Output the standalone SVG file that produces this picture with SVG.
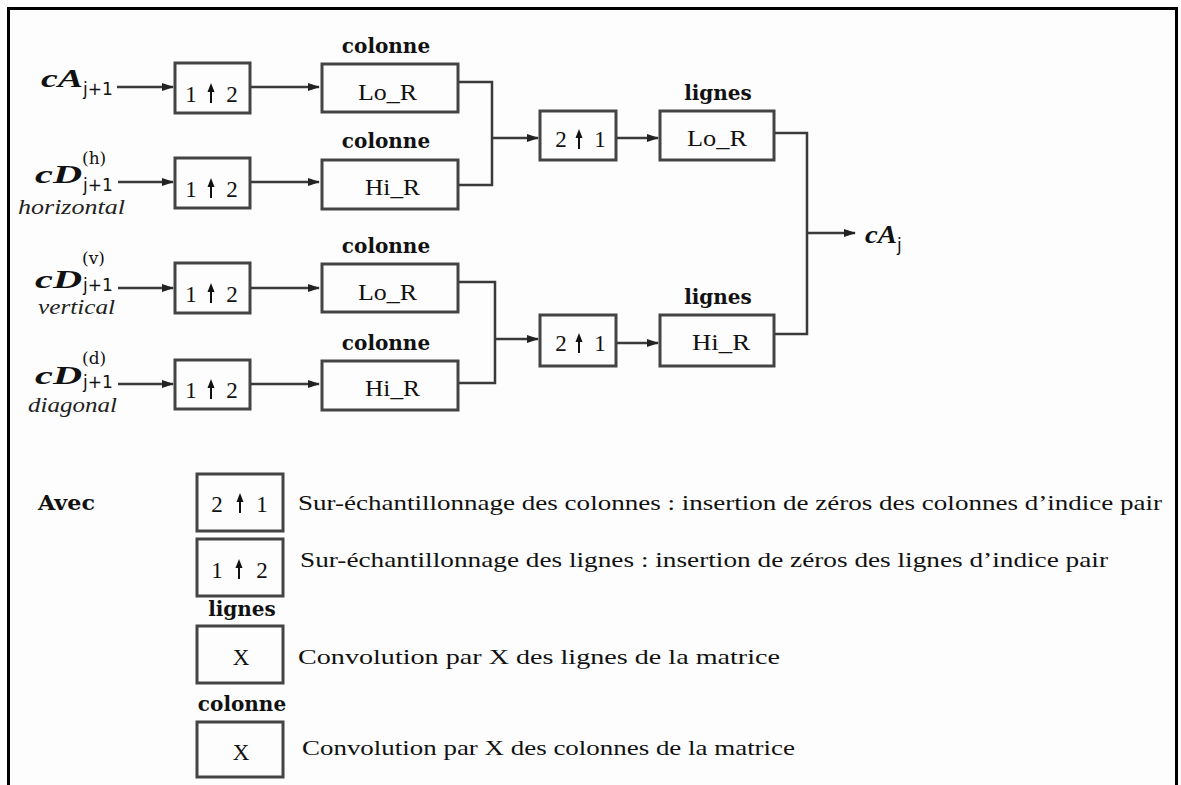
<svg xmlns="http://www.w3.org/2000/svg" xmlns:xlink="http://www.w3.org/1999/xlink" width="1181" height="785" viewBox="0 0 1181 785">
<style>
.box{fill:none;stroke:#444;stroke-width:3}
.wire{fill:none;stroke:#3a3a3a;stroke-width:2.5}
.t{font-family:"Liberation Serif","Times New Roman",serif;font-size:23px;fill:#111}
.lab{font-family:"DejaVu Serif","Liberation Serif",serif;font-weight:bold;font-size:20px;fill:#111;text-anchor:middle}
.in{font-family:"Liberation Serif","Times New Roman",serif;font-weight:bold;font-style:italic;font-size:25px;fill:#111}
.sub{font-family:"DejaVu Sans","Liberation Sans",sans-serif;font-size:17px;fill:#111}
.sup{font-family:"DejaVu Serif","Liberation Serif",serif;font-size:17px;fill:#111}
.it{font-family:"Liberation Serif","Times New Roman",serif;font-style:italic;font-size:21px;fill:#222}
.leg{font-family:"Liberation Serif","Times New Roman",serif;font-size:21px;fill:#111}
.mid{text-anchor:middle}
</style>
<defs>
<marker id="ah" markerWidth="12" markerHeight="8" refX="11" refY="4" orient="auto" markerUnits="userSpaceOnUse">
<path d="M0,0 L12,4 L0,8 Z" fill="#222"/>
</marker>
<g id="up">
<line x1="0" y1="-4" x2="0" y2="10" stroke="#111" stroke-width="2"/>
<path d="M-3.5,-1 L0,-10 L3.5,-1 Z" fill="#111"/>
</g>
</defs>
<rect x="0" y="0" width="1181" height="785" fill="#fdfdfd"/>
<path d="M8.5,785 V8.5 H1176.5 V785" fill="none" stroke="#000" stroke-width="3"/>

<!-- input labels -->
<g id="in1">
<text class="in" x="41" y="87" textLength="42" lengthAdjust="spacingAndGlyphs">cA</text>
<text class="sub" x="83" y="95">j+1</text>
</g>
<g id="in2">
<text class="in" x="35" y="183" textLength="47" lengthAdjust="spacingAndGlyphs">cD</text>
<text class="sub" x="83" y="191">j+1</text>
<text class="sup" x="82" y="164">(h)</text>
<text class="it" x="18" y="214" textLength="107" lengthAdjust="spacingAndGlyphs">horizontal</text>
</g>
<g id="in3">
<text class="in" x="35" y="288" textLength="47" lengthAdjust="spacingAndGlyphs">cD</text>
<text class="sub" x="83" y="291">j+1</text>
<text class="sup" x="82" y="264">(v)</text>
<text class="it" x="38" y="314" textLength="77" lengthAdjust="spacingAndGlyphs">vertical</text>
</g>
<g id="in4">
<text class="in" x="35" y="384" textLength="47" lengthAdjust="spacingAndGlyphs">cD</text>
<text class="sub" x="83" y="388">j+1</text>
<text class="sup" x="82" y="364">(d)</text>
<text class="it" x="28" y="412" textLength="89" lengthAdjust="spacingAndGlyphs">diagonal</text>
</g>

<!-- upsampling 1 up 2 -->
<g id="up1"><rect class="box" x="175" y="63" width="75" height="50"/><text class="t mid" x="191" y="102">1</text><use xlink:href="#up" x="211" y="93"/><text class="t mid" x="232" y="102">2</text></g>
<g id="up2"><rect class="box" x="175" y="158" width="75" height="50"/><text class="t mid" x="191" y="197">1</text><use xlink:href="#up" x="211" y="188"/><text class="t mid" x="232" y="197">2</text></g>
<g id="up3"><rect class="box" x="175" y="263" width="75" height="50"/><text class="t mid" x="191" y="302">1</text><use xlink:href="#up" x="211" y="293"/><text class="t mid" x="232" y="302">2</text></g>
<g id="up4"><rect class="box" x="175" y="360" width="75" height="49"/><text class="t mid" x="191" y="398">1</text><use xlink:href="#up" x="211" y="389"/><text class="t mid" x="232" y="398">2</text></g>

<!-- column filters -->
<g id="f1"><text class="lab" x="386" y="53">colonne</text><rect class="box" x="322" y="64" width="136" height="48"/><text class="t" x="358" y="100" textLength="59" lengthAdjust="spacingAndGlyphs">Lo_R</text></g>
<g id="f2"><text class="lab" x="386" y="148">colonne</text><rect class="box" x="322" y="160" width="136" height="49"/><text class="t" x="365" y="195" textLength="55" lengthAdjust="spacingAndGlyphs">Hi_R</text></g>
<g id="f3"><text class="lab" x="386" y="253">colonne</text><rect class="box" x="322" y="264" width="136" height="48"/><text class="t" x="358" y="300" textLength="59" lengthAdjust="spacingAndGlyphs">Lo_R</text></g>
<g id="f4"><text class="lab" x="386" y="350">colonne</text><rect class="box" x="322" y="361" width="136" height="49"/><text class="t" x="365" y="396" textLength="55" lengthAdjust="spacingAndGlyphs">Hi_R</text></g>

<!-- 2 up 1 -->
<g id="d1"><rect class="box" x="540" y="111" width="76" height="49"/><text class="t mid" x="561" y="147">2</text><use xlink:href="#up" x="579" y="139"/><text class="t mid" x="600" y="147">1</text></g>
<g id="d2"><rect class="box" x="540" y="315" width="76" height="51"/><text class="t mid" x="561" y="351">2</text><use xlink:href="#up" x="579" y="343"/><text class="t mid" x="600" y="351">1</text></g>

<!-- row filters -->
<g id="g1"><text class="lab" x="718" y="100">lignes</text><rect class="box" x="660" y="111" width="114" height="49"/><text class="t" x="687" y="146" textLength="60" lengthAdjust="spacingAndGlyphs">Lo_R</text></g>
<g id="g2"><text class="lab" x="718" y="304">lignes</text><rect class="box" x="660" y="315" width="114" height="51"/><text class="t" x="692" y="350" textLength="58" lengthAdjust="spacingAndGlyphs">Hi_R</text></g>

<!-- output -->
<g id="out">
<text class="in" x="865" y="243" textLength="32" lengthAdjust="spacingAndGlyphs">cA</text>
<text class="sub" x="897" y="251">j</text>
</g>

<!-- connectors -->
<g id="connectors">
<line class="wire" x1="117" y1="87" x2="173" y2="87" marker-end="url(#ah)"/>
<line class="wire" x1="118" y1="182" x2="173" y2="182" marker-end="url(#ah)"/>
<line class="wire" x1="118" y1="288" x2="173" y2="288" marker-end="url(#ah)"/>
<line class="wire" x1="118" y1="384" x2="173" y2="384" marker-end="url(#ah)"/>
<line class="wire" x1="251" y1="87" x2="319" y2="87" marker-end="url(#ah)"/>
<line class="wire" x1="251" y1="182" x2="319" y2="182" marker-end="url(#ah)"/>
<line class="wire" x1="251" y1="288" x2="319" y2="288" marker-end="url(#ah)"/>
<line class="wire" x1="251" y1="384" x2="319" y2="384" marker-end="url(#ah)"/>
<path class="wire" d="M459,82 H492 V185 H459"/>
<line class="wire" x1="492" y1="138" x2="538" y2="138" marker-end="url(#ah)"/>
<path class="wire" d="M459,282 H495 V383 H459"/>
<line class="wire" x1="495" y1="339" x2="538" y2="339" marker-end="url(#ah)"/>
<line class="wire" x1="617" y1="138" x2="658" y2="138" marker-end="url(#ah)"/>
<line class="wire" x1="617" y1="343" x2="658" y2="343" marker-end="url(#ah)"/>
<path class="wire" d="M775,133 H807 V334 H775"/>
<line class="wire" x1="807" y1="233" x2="855" y2="233" marker-end="url(#ah)"/>
</g>

<!-- legend -->
<g id="legend">
<text class="lab" x="38" y="510" style="text-anchor:start" textLength="57" lengthAdjust="spacingAndGlyphs">Avec</text>
<g id="leg1"><rect class="box" x="197" y="474" width="86" height="57"/><text class="t mid" x="217" y="512">2</text><use xlink:href="#up" x="240" y="503"/><text class="t mid" x="262" y="512">1</text>
<text class="leg" x="298" y="510" textLength="864" lengthAdjust="spacingAndGlyphs">Sur-échantillonnage des colonnes : insertion de zéros des colonnes d’indice pair</text></g>
<g id="leg2"><rect class="box" x="197" y="539" width="86" height="57"/><text class="t mid" x="217" y="578">1</text><use xlink:href="#up" x="239" y="569"/><text class="t mid" x="262" y="578">2</text>
<text class="leg" x="300" y="567" textLength="808" lengthAdjust="spacingAndGlyphs">Sur-échantillonnage des lignes : insertion de zéros des lignes d’indice pair</text></g>
<g id="leg3"><text class="lab" x="242" y="616">lignes</text><rect class="box" x="197" y="626" width="86" height="57"/><text class="t mid" x="241" y="665">X</text>
<text class="leg" x="298" y="664" textLength="482" lengthAdjust="spacingAndGlyphs">Convolution par X des lignes de la matrice</text></g>
<g id="leg4"><text class="lab" x="242" y="711">colonne</text><rect class="box" x="197" y="722" width="86" height="55"/><text class="t mid" x="241" y="760">X</text>
<text class="leg" x="302" y="755" textLength="493" lengthAdjust="spacingAndGlyphs">Convolution par X des colonnes de la matrice</text></g>
</g>
</svg>
